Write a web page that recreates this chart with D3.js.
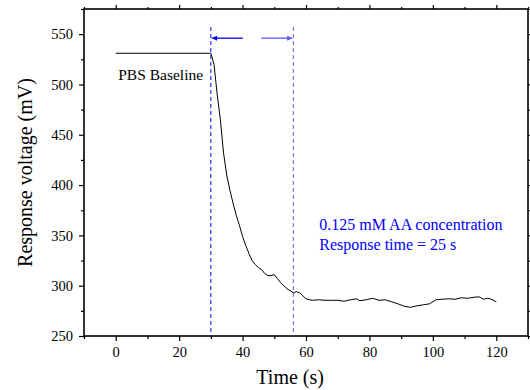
<!DOCTYPE html>
<html>
<head>
<meta charset="utf-8">
<script src="https://cdn.jsdelivr.net/npm/d3@7"></script>
<style>
  body { margin: 0; background: #fff; }
</style>
</head>
<body>
<svg id="chart"></svg>
<script>
// response curve
const timeS = [0, 30, 31, 32, 33, 34, 35, 36, 37, 38, 39, 40, 41, 42, 43, 44, 45, 46, 47, 48, 49, 50,
  51, 52, 53, 54, 55, 56, 57, 58, 59, 60, 61, 62, 64, 66, 68, 70, 72, 74, 76, 77, 79, 81, 83, 85,
  87, 89, 91, 93, 95, 97, 99, 101, 103, 105, 107, 109, 111, 113, 114.5, 116, 117, 118, 120];
const voltageMV = [531, 531, 520, 490, 465, 432, 410, 395, 382, 370, 360, 349, 340, 332, 325, 321, 318, 316, 312, 310, 310, 311,
  307, 303, 300, 297, 295, 293, 294, 293, 290, 287, 286, 285.5, 286, 285.5, 285.5, 285.5, 284.5, 286, 287, 285, 286, 287.5, 285.5, 286,
  284, 282, 279.5, 278.5, 280, 281, 282, 286, 286.5, 287, 286.5, 288, 287.5, 288.5, 289, 286.5, 287.5, 287, 284];

const xTicks = [0, 20, 40, 60, 80, 100, 120];
const yTicks = [250, 300, 350, 400, 450, 500, 550];
const markerTimes = [30, 56];
const arrowLevel = 546;
const notes = ["0.125 mM AA concentration", "Response time = 25 s"];

const FONT = '"Liberation Serif", "Times New Roman", serif';
const W = 530, H = 390;
const margin = {top: 9, right: 2, bottom: 54, left: 84};
const width = W - margin.left - margin.right;
const height = H - margin.top - margin.bottom;

const svg = d3.select('#chart').attr('width', W).attr('height', H)
  .style('font-family', FONT);
const g = svg.append('g').attr('transform', `translate(${margin.left},${margin.top})`);

const x = d3.scaleLinear().domain([-10, 130]).range([0, width]);
const y = d3.scaleLinear().domain([250, 575]).range([height, 0]);

const xMinor = d3.range(-10, 131, 10).filter(v => !xTicks.includes(v));
const yMinor = d3.range(275, 576, 50);

function styleAxis(sel) {
  sel.attr('font-family', null);
  sel.select('.domain').remove();
  sel.selectAll('line').attr('stroke', '#000').attr('stroke-width', 1.2);
  sel.selectAll('text').attr('fill', '#000')
    .style('font-family', FONT).style('font-size', '14.5px');
}

// major + minor ticks on all four sides
g.append('g').attr('transform', `translate(0,${height})`)
  .call(d3.axisBottom(x).tickValues(xTicks).tickSize(5).tickPadding(6)).call(styleAxis);
g.append('g').attr('transform', `translate(0,${height})`)
  .call(d3.axisBottom(x).tickValues(xMinor).tickSize(3).tickFormat('')).call(styleAxis);
g.append('g')
  .call(d3.axisTop(x).tickValues(xTicks).tickSize(4).tickFormat('')).call(styleAxis);
g.append('g')
  .call(d3.axisTop(x).tickValues(xMinor).tickSize(2).tickFormat('')).call(styleAxis);
g.append('g')
  .call(d3.axisLeft(y).tickValues(yTicks).tickSize(5).tickPadding(6)).call(styleAxis);
g.append('g')
  .call(d3.axisLeft(y).tickValues(yMinor).tickSize(3).tickFormat('')).call(styleAxis);
g.append('g').attr('transform', `translate(${width},0)`)
  .call(d3.axisRight(y).tickValues(yTicks).tickSize(4).tickFormat('')).call(styleAxis);
g.append('g').attr('transform', `translate(${width},0)`)
  .call(d3.axisRight(y).tickValues(yMinor).tickSize(2).tickFormat('')).call(styleAxis);

g.append('rect')
  .attr('width', width).attr('height', height)
  .attr('fill', 'none').attr('stroke', '#000').attr('stroke-width', 1.6);

// dashed markers
const markerColors = ['#0000ff', '#5a5aff'];
g.selectAll('.marker')
  .data(markerTimes)
  .join('line')
  .attr('class', 'marker')
  .attr('x1', d => x(d)).attr('x2', d => x(d))
  .attr('y1', 18).attr('y2', height)
  .attr('stroke', (d, i) => markerColors[i])
  .attr('stroke-width', 1)
  .attr('stroke-dasharray', '4,3');

// arrows pointing outward to the markers
const defs = svg.append('defs');
markerColors.forEach((c, i) => {
  defs.append('marker')
    .attr('id', 'ah' + i)
    .attr('viewBox', '0 0 10 10')
    .attr('refX', 10).attr('refY', 5)
    .attr('markerWidth', 6).attr('markerHeight', 4)
    .attr('orient', 'auto')
    .append('path').attr('d', 'M0,0L10,5L0,10Z').attr('fill', c);
});
const arrowLen = 32 / (width / 140);
g.append('line')
  .attr('x1', x(markerTimes[0] + arrowLen)).attr('x2', x(markerTimes[0]) + 1)
  .attr('y1', y(arrowLevel)).attr('y2', y(arrowLevel))
  .attr('stroke', markerColors[0]).attr('stroke-width', 1.3)
  .attr('marker-end', 'url(#ah0)');
g.append('line')
  .attr('x1', x(markerTimes[1] - arrowLen)).attr('x2', x(markerTimes[1]) - 1)
  .attr('y1', y(arrowLevel)).attr('y2', y(arrowLevel))
  .attr('stroke', markerColors[1]).attr('stroke-width', 1.3)
  .attr('marker-end', 'url(#ah1)');

// response curve
const pts = timeS.map((t, i) => [t, voltageMV[i]]);
g.append('path')
  .datum(pts)
  .attr('fill', 'none')
  .attr('stroke', '#000')
  .attr('stroke-width', 1)
  .attr('d', d3.line().x(d => x(d[0])).y(d => y(d[1])));

// labels
g.append('text')
  .attr('x', x(0.8)).attr('y', 71)
  .style('font-size', '15.5px')
  .text('PBS Baseline');

g.selectAll('.note')
  .data(notes)
  .join('text')
  .attr('class', 'note')
  .attr('x', x(64.2))
  .attr('y', (d, i) => 221 + i * 20)
  .attr('fill', '#0000ff')
  .style('font-size', '16px')
  .text(d => d);

svg.append('text')
  .attr('x', margin.left + x(55)).attr('y', 384)
  .attr('text-anchor', 'middle')
  .style('font-size', '20px')
  .text('Time (s)');

svg.append('text')
  .attr('transform', `translate(32,${margin.top + height / 2}) rotate(-90)`)
  .attr('text-anchor', 'middle')
  .style('font-size', '20px')
  .text('Response voltage (mV)');
</script>
</body>
</html>
